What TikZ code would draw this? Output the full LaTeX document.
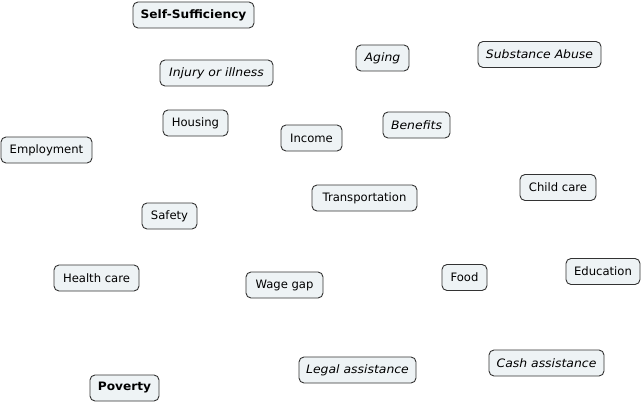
\documentclass[tikz,border=0pt]{standalone}
\usepackage{fontspec}
\setmainfont{DejaVu Sans}[ItalicFeatures={FakeStretch=1.07},BoldFeatures={FakeStretch=1.05}]
\begin{document}
\begin{tikzpicture}[x=1pt,y=-1pt,
  box/.style={draw=black!80, line width=0.9pt, fill=boxfill, rounded corners=5pt,
    minimum height=26pt, inner sep=0pt, font=\fontsize{11.6}{13}\selectfont},
  it/.style={font=\fontsize{11.6}{13}\selectfont\itshape},
  bf/.style={font=\fontsize{11.6}{13}\selectfont\bfseries}]
\definecolor{boxfill}{HTML}{EEF3F5}
\useasboundingbox (0,0) rectangle (643,404);
\node[box,bf,minimum width=121pt] (self) at (193.5,15) {Self-Sufficiency};
\node[box,it,minimum width=113pt] (injury) at (216.5,73) {Injury or illness};
\node[box,it,minimum width=53pt] (aging) at (382.5,58) {Aging};
\node[box,it,minimum width=123pt] (subst) at (539.5,54.5) {Substance Abuse};
\node[box,minimum width=65pt] (housing) at (195.5,123) {Housing};
\node[box,minimum width=61pt] (income) at (311.5,138) {Income};
\node[box,it,minimum width=67pt] (benefits) at (416.5,125) {Benefits};
\node[box,minimum width=91pt] (employ) at (46.5,150) {Employment};
\node[box,minimum width=76pt] (child) at (558,187.5) {Child care};
\node[box,minimum width=105pt] (transp) at (364.5,198) {Transportation};
\node[box,minimum width=55pt] (safety) at (169.5,216) {Safety};
\node[box,minimum width=85pt] (health) at (96.5,278) {Health care};
\node[box,minimum width=77pt] (wage) at (284.5,285) {Wage gap};
\node[box,minimum width=45pt] (food) at (464.5,277.5) {Food};
\node[box,minimum width=74pt] (edu) at (603,271.5) {Education};
\node[box,bf,minimum width=69pt] (poverty) at (124.5,388) {Poverty};
\node[box,it,minimum width=117pt] (legal) at (357.5,370) {Legal assistance};
\node[box,it,minimum width=115pt] (cash) at (546.5,363) {Cash assistance};
\end{tikzpicture}
\end{document}
